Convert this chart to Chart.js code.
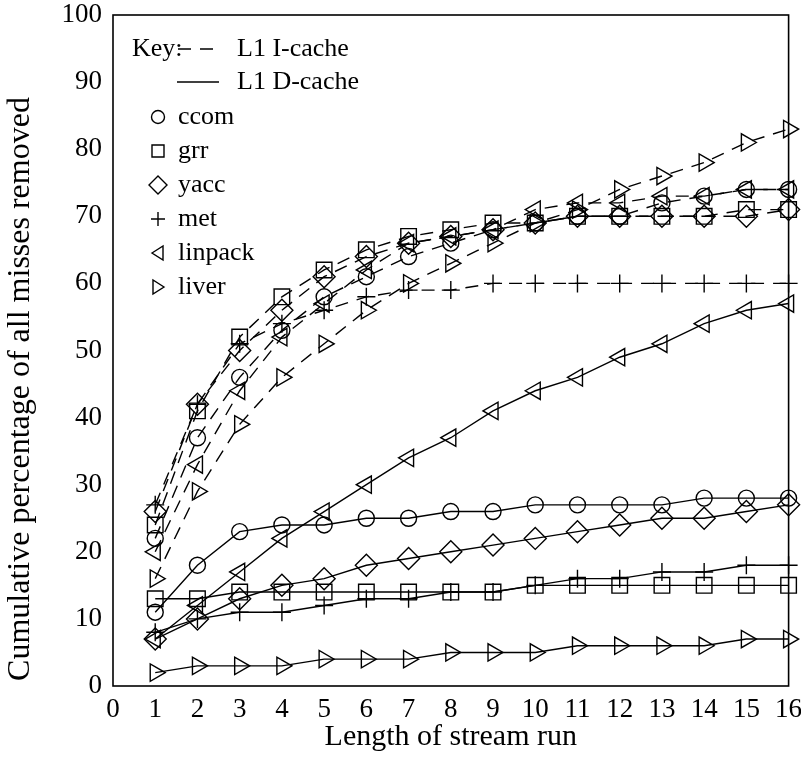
<!DOCTYPE html>
<html>
<head>
<meta charset="utf-8">
<script src="https://cdn.jsdelivr.net/npm/chart.js@4/dist/chart.umd.min.js"></script>
<style>
  html, body { margin: 0; padding: 0; background: #fff; }
  #wrap { width: 801px; height: 761px; }
</style>
</head>
<body>
<div id="wrap"><canvas id="StreamChart" width="801" height="761"></canvas></div>
<script>
const runLengths = [1, 2, 3, 4, 5, 6, 7, 8, 9, 10, 11, 12, 13, 14, 15, 16];
const benchmarks = ['ccom', 'grr', 'yacc', 'met', 'linpack', 'liver'];

// L1 I-cache (dashed)
const iCcom    = [22, 37, 46, 53, 58, 61, 64, 66, 68, 69, 70, 70, 72, 73, 74, 74];
const iGrr     = [24, 41, 52, 58, 62, 65, 67, 68, 69, 69, 70, 70, 70, 70, 71, 71];
const iYacc    = [26, 42, 50, 56, 61, 64, 66, 67, 68, 69, 70, 70, 70, 70, 70, 71];
const iMet     = [27, 42, 51, 54, 56, 58, 59, 59, 60, 60, 60, 60, 60, 60, 60, 60];
const iLinpack = [20, 33, 44, 52, 57, 62, 66, 67, 68, 71, 72, 72, 73, 73, 74, 74];
const iLiver   = [16, 29, 39, 46, 51, 56, 60, 63, 66, 69, 71, 74, 76, 78, 81, 83];

// L1 D-cache (solid)
const dCcom    = [11, 18, 23, 24, 24, 25, 25, 26, 26, 27, 27, 27, 27, 28, 28, 28];
const dGrr     = [13, 13, 14, 14, 14, 14, 14, 14, 14, 15, 15, 15, 15, 15, 15, 15];
const dYacc    = [7, 10, 13, 15, 16, 18, 19, 20, 21, 22, 23, 24, 25, 25, 26, 27];
const dMet     = [8, 10, 11, 11, 12, 13, 13, 14, 14, 15, 16, 16, 17, 17, 18, 18];
const dLinpack = [7, 12, 17, 22, 26, 30, 34, 37, 41, 44, 46, 49, 51, 54, 56, 57];
const dLiver   = [2, 3, 3, 3, 4, 4, 4, 5, 5, 5, 6, 6, 6, 6, 7, 7];

const xTicks = [0, 1, 2, 3, 4, 5, 6, 7, 8, 9, 10, 11, 12, 13, 14, 15, 16];
const yTicks = [0, 10, 20, 30, 40, 50, 60, 70, 80, 90, 100];

const iSeries = [iCcom, iGrr, iYacc, iMet, iLinpack, iLiver];
const dSeries = [dCcom, dGrr, dYacc, dMet, dLinpack, dLiver];

// marker per benchmark
const markers = [
    { style: 'circle', radius: 8, rotation: 0 },
    { style: 'rect', radius: 11, rotation: 0 },
    { style: 'rectRot', radius: 11, rotation: 0 },
    { style: 'cross', radius: 9, rotation: 0 },
    { style: 'triangle', radius: 10, rotation: -90 },
    { style: 'triangle', radius: 10, rotation: 90 }
];

const FONT = '"Liberation Serif", "Times New Roman", serif';

function makeDataset(name, values, m, dashed) {
    return {
        label: name + (dashed ? ' I-cache' : ' D-cache'),
        data: values.map((v, i) => ({ x: runLengths[i], y: v })),
        borderColor: '#000',
        borderWidth: 1.4,
        borderDash: dashed ? [13, 9] : [],
        pointStyle: m.style,
        pointRadius: m.radius,
        pointRotation: m.rotation,
        pointBorderColor: '#000',
        pointBackgroundColor: 'rgba(0,0,0,0)',
        pointBorderWidth: 1.4,
        tension: 0,
        clip: false
    };
}

const datasets = [];
benchmarks.forEach((b, k) => {
    datasets.push(makeDataset(b, iSeries[k], markers[k], true));
    datasets.push(makeDataset(b, dSeries[k], markers[k], false));
});

function keyMarker(ctx, m, x, y) {
    const r = 7;
    ctx.beginPath();
    if (m.style === 'circle') {
        ctx.arc(x, y, 6.5, 0, Math.PI * 2);
    } else if (m.style === 'rect') {
        ctx.rect(x - 6, y - 6, 12, 12);
    } else if (m.style === 'rectRot') {
        ctx.moveTo(x, y - 9); ctx.lineTo(x + 9, y); ctx.lineTo(x, y + 9); ctx.lineTo(x - 9, y); ctx.closePath();
    } else if (m.style === 'cross') {
        ctx.moveTo(x - r, y); ctx.lineTo(x + r, y); ctx.moveTo(x, y - r); ctx.lineTo(x, y + r);
    } else if (m.rotation < 0) {
        ctx.moveTo(x - 6, y); ctx.lineTo(x + 5, y - 7); ctx.lineTo(x + 5, y + 7); ctx.closePath();
    } else {
        ctx.moveTo(x + 6, y); ctx.lineTo(x - 5, y - 7); ctx.lineTo(x - 5, y + 7); ctx.closePath();
    }
    ctx.stroke();
}

const frameAndKey = {
    id: 'frameAndKey',
    afterDraw(chart) {
        const { ctx, chartArea } = chart;
        ctx.save();
        ctx.strokeStyle = '#000';
        ctx.lineWidth = 1.6;
        ctx.strokeRect(chartArea.left, chartArea.top, chartArea.right - chartArea.left, chartArea.bottom - chartArea.top);

        ctx.fillStyle = '#000';
        ctx.font = '26px ' + FONT;
        ctx.textBaseline = 'middle';
        ctx.textAlign = 'left';
        ctx.fillText('Key:', 132, 49);
        ctx.lineWidth = 1.4;
        ctx.beginPath();
        ctx.setLineDash([13, 9]);
        ctx.moveTo(178, 49); ctx.lineTo(222, 49);
        ctx.stroke();
        ctx.setLineDash([]);
        ctx.fillText('L1 I-cache', 237, 49);
        ctx.beginPath();
        ctx.moveTo(177, 82); ctx.lineTo(219, 82);
        ctx.stroke();
        ctx.fillText('L1 D-cache', 237, 82);

        benchmarks.forEach((b, k) => {
            const y = 117 + k * 34;
            keyMarker(ctx, markers[k], 158, y);
            ctx.fillText(b, 178, y);
        });

        // y axis title
        ctx.translate(21, 389);
        ctx.rotate(-Math.PI / 2);
        ctx.textAlign = 'center';
        ctx.font = '32px ' + FONT;
        ctx.fillText('Cumulative percentage of all misses removed', 0, 0);
        ctx.restore();
    }
};

new Chart(document.getElementById('StreamChart').getContext('2d'), {
    type: 'line',
    data: { datasets: datasets },
    options: {
        responsive: false,
        animation: false,
        layout: { padding: { left: 0, top: 15, right: 11, bottom: 0 } },
        plugins: {
            legend: { display: false },
            tooltip: { enabled: false }
        },
        scales: {
            x: {
                type: 'linear',
                min: 0,
                max: 16,
                afterBuildTicks: (scale) => { scale.ticks = xTicks.map(v => ({ value: v })); },
                afterFit: (scale) => {
                    scale.height = 75;
                    scale.paddingLeft = 0;
                    scale.paddingRight = 0;
                },
                grid: { display: false, drawTicks: false },
                border: { display: false },
                ticks: { color: '#000', padding: 8, maxRotation: 0, autoSkip: false, font: { family: FONT, size: 27 } },
                title: { display: true, text: 'Length of stream run', color: '#000', font: { family: FONT, size: 30 }, padding: { top: 0, bottom: 6 } }
            },
            y: {
                min: 0,
                max: 100,
                afterBuildTicks: (scale) => { scale.ticks = yTicks.map(v => ({ value: v })); },
                afterFit: (scale) => {
                    scale.width = 113;
                    scale.paddingTop = 0;
                    scale.paddingBottom = 0;
                },
                grid: { display: false, drawTicks: false },
                border: { display: false },
                ticks: { color: '#000', padding: 11, font: { family: FONT, size: 27 } }
            }
        }
    },
    plugins: [frameAndKey]
});
</script>
</body>
</html>
